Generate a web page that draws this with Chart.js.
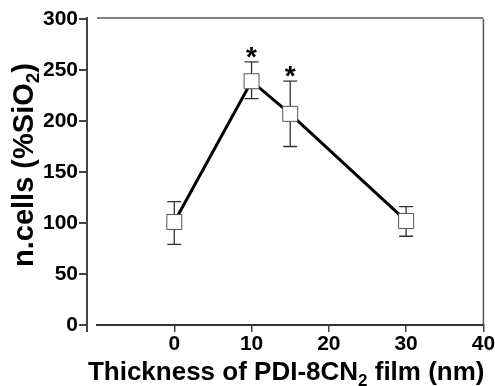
<!DOCTYPE html>
<html>
<head>
<meta charset="utf-8">
<script src="https://cdn.jsdelivr.net/npm/chart.js@4"></script>
<style>
  body { margin: 0; background: #fff; }
  #wrap { width: 495px; height: 386px; }
</style>
</head>
<body>
<div id="wrap"><canvas id="grafico"></canvas></div>
<script>
const thickness = [0, 10, 15, 30];
const cells = [101, 239, 207, 102];
const errLow = [79, 222, 175, 87];
const errHigh = [121, 258, 239, 116];
const significant = [false, true, true, false];
const xTicks = [0, 10, 20, 30, 40];
const yTicks = [0, 50, 100, 150, 200, 250, 300];

const FONT = '"Liberation Sans", Arial, sans-serif';

// testo con pedice (es. SiO2, CN2)
function drawRich(ctx, parts, cx, cy, size) {
  const big = 'bold ' + size + 'px ' + FONT;
  const small = 'bold ' + Math.round(size * 0.65) + 'px ' + FONT;
  let w = 0;
  parts.forEach(p => { ctx.font = p.sub ? small : big; w += ctx.measureText(p.t).width; });
  let xx = cx - w / 2;
  ctx.textAlign = 'left';
  ctx.textBaseline = 'alphabetic';
  parts.forEach(p => {
    ctx.font = p.sub ? small : big;
    ctx.fillText(p.t, xx, p.sub ? cy + size * 0.22 : cy);
    xx += ctx.measureText(p.t).width;
  });
}

const decor = {
  id: 'decor',
  beforeDatasetsDraw(chart) {
    const { ctx, scales: { x, y } } = chart;
    ctx.save();
    ctx.strokeStyle = '#333';
    ctx.lineWidth = 1.3;
    thickness.forEach((t, i) => {
      const px = x.getPixelForValue(t);
      const lo = y.getPixelForValue(errLow[i]);
      const hi = y.getPixelForValue(errHigh[i]);
      ctx.beginPath();
      ctx.moveTo(px, lo); ctx.lineTo(px, hi);
      ctx.moveTo(px - 7, lo); ctx.lineTo(px + 7, lo);
      ctx.moveTo(px - 7, hi); ctx.lineTo(px + 7, hi);
      ctx.stroke();
    });
    ctx.restore();
  },
  afterDraw(chart) {
    const { ctx, chartArea: a, scales: { x, y } } = chart;
    ctx.save();
    // cornice sopra e a destra
    ctx.strokeStyle = '#555';
    ctx.lineWidth = 1.5;
    ctx.beginPath();
    ctx.moveTo(a.left, a.top - 1); ctx.lineTo(a.right, a.top - 1);
    ctx.moveTo(a.right, a.top); ctx.lineTo(a.right, a.bottom);
    ctx.stroke();

    // asse y staccato dall'area
    const ax = a.left - 10;
    ctx.strokeStyle = '#444';
    ctx.lineWidth = 2;
    ctx.beginPath();
    ctx.moveTo(ax, a.top - 2); ctx.lineTo(ax, a.bottom + 7);
    yTicks.forEach(v => {
      const py = y.getPixelForValue(v);
      ctx.moveTo(ax - 8, py); ctx.lineTo(ax, py);
    });
    ctx.stroke();

    // asterischi
    ctx.fillStyle = '#000';
    ctx.font = 'bold 28px ' + FONT;
    ctx.textAlign = 'center';
    ctx.textBaseline = 'alphabetic';
    thickness.forEach((t, i) => {
      if (!significant[i]) return;
      ctx.fillText('*', x.getPixelForValue(t), y.getPixelForValue(errHigh[i]) + 4);
    });

    // titoli assi
    drawRich(ctx, [
      { t: 'Thickness of PDI-8CN' }, { t: '2', sub: true }, { t: ' film (nm)' }
    ], (a.left + a.right) / 2 - 4, 380, 26);

    ctx.translate(33, 165);
    ctx.rotate(-Math.PI / 2);
    drawRich(ctx, [
      { t: 'n.cells (%SiO' }, { t: '2', sub: true }, { t: ')' }
    ], 0, 0, 29);
    ctx.restore();
  }
};

const ctx = document.getElementById('grafico').getContext('2d');

new Chart(ctx, {
  type: 'scatter',
  data: {
    datasets: [{
      data: thickness.map((t, i) => ({ x: t, y: cells[i] })),
      showLine: true,
      borderColor: '#000',
      borderWidth: 3,
      pointStyle: 'rect',
      pointRadius: 10.6,
      pointBackgroundColor: '#fff',
      pointBorderColor: '#555',
      pointBorderWidth: 1
    }]
  },
  options: {
    responsive: true,
    maintainAspectRatio: false,
    animation: false,
    layout: { padding: { top: 19, right: 7, left: 0, bottom: 0 } },
    plugins: {
      legend: { display: false },
      tooltip: { enabled: false }
    },
    scales: {
      x: {
        type: 'linear',
        min: -10,
        max: 40,
        afterBuildTicks: s => { s.ticks = xTicks.map(v => ({ value: v })); },
        afterFit: s => { s.height = 61; s.paddingLeft = 0; s.paddingRight = 0; },
        grid: { drawOnChartArea: false, tickLength: 7, color: '#444', lineWidth: 1.5 },
        border: { color: '#333', width: 2 },
        ticks: { color: '#000', padding: 0, font: { family: FONT, weight: 'bold', size: 21 } }
      },
      y: {
        min: 0,
        max: 300,
        afterBuildTicks: s => { s.ticks = yTicks.map(v => ({ value: v })); },
        afterFit: s => { s.width = 97; s.paddingTop = 0; s.paddingBottom = 0; },
        grid: { display: true, drawOnChartArea: false, drawTicks: false },
        border: { display: false },
        ticks: { color: '#000', padding: 19, font: { family: FONT, weight: 'bold', size: 21 } }
      }
    }
  },
  plugins: [decor]
});
</script>
</body>
</html>
